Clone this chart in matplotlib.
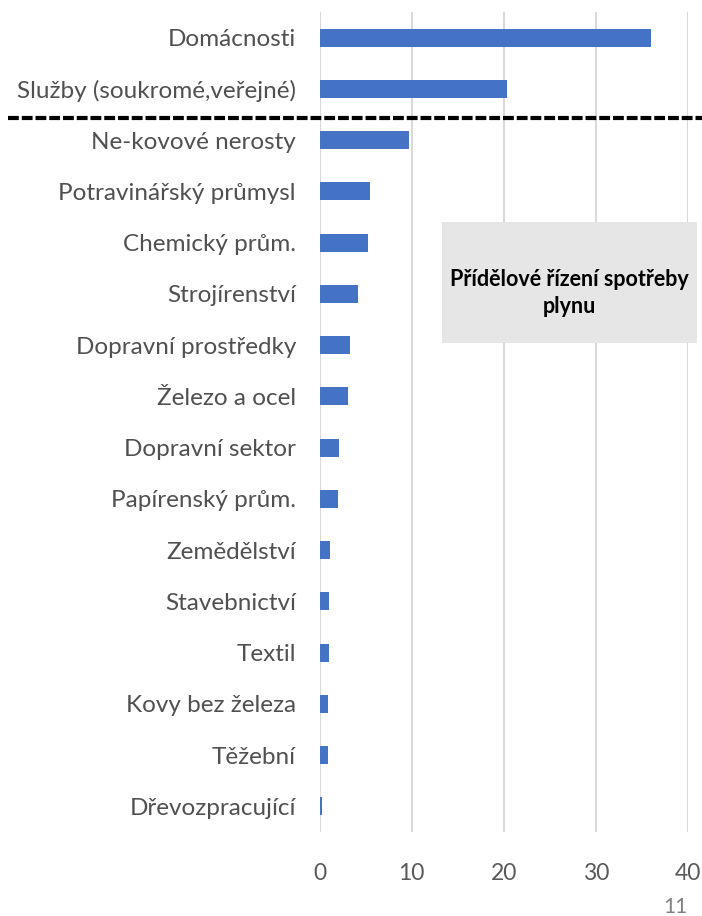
import matplotlib
matplotlib.use("Agg")
import matplotlib.pyplot as plt
from matplotlib.transforms import blended_transform_factory
from matplotlib.lines import Line2D

categories = ["Domácnosti", "Služby (soukromé,veřejné)", "Ne-kovové nerosty",
              "Potravinářský průmysl", "Chemický prům.", "Strojírenství",
              "Dopravní prostředky", "Železo a ocel", "Dopravní sektor",
              "Papírenský prům.", "Zemědělství", "Stavebnictví", "Textil",
              "Kovy bez železa", "Těžební", "Dřevozpracující"]
values = [36.0, 20.4, 9.75, 5.45, 5.3, 4.2, 3.35, 3.1, 2.15, 1.97,
          1.17, 1.03, 1.03, 0.92, 0.92, 0.27]
xticks = [0, 10, 20, 30, 40]
box_text = "Přídělové řízení spotřeby\nplynu"
page_no = "11"

plt.rcParams['font.family'] = ['Lato', 'DejaVu Sans']

fig = plt.figure(figsize=(7.02, 9.16), dpi=100)
ax = fig.add_axes([319.5/702, 1-832/916, (688-319.5)/702, (832-12)/916])

ypos = list(range(len(categories)))
ax.barh(ypos, values, height=0.35, color="#4472C4", zorder=3)
ax.set_ylim(len(categories)-0.5, -0.5)
ax.set_xlim(0, 40)
ax.set_xticks(xticks)
ax.set_xticklabels([str(t) for t in xticks])
ax.set_yticks(ypos)
ax.set_yticklabels(categories)
ax.tick_params(axis='y', length=0, pad=17, labelsize=17.5, labelcolor="#505050")
ax.tick_params(axis='x', length=0, pad=22, labelsize=16.5, labelcolor="#595959")
for s in ax.spines.values():
    s.set_visible(False)
ax.grid(axis='x', color="#d9d9d9", linewidth=1.5, zorder=0)
ax.set_axisbelow(True)

# dashed separator line
trans = blended_transform_factory(fig.transFigure, ax.transData)
line = Line2D([8/702, 1.0], [1.57, 1.57], transform=trans, color="black",
              linewidth=3, linestyle=(0, (2.6, 0.7)), clip_on=False)
fig.add_artist(line)

# annotation box
fig.patches.append(matplotlib.patches.Rectangle((442/702, 1-343/916), (697-442)/702, (343-222)/916,
                                                transform=fig.transFigure, facecolor="#e6e6e6",
                                                edgecolor="none", zorder=5))
fig.text(569/702, 1-293/916, box_text, ha='center', va='center', fontsize=15.5,
         fontweight='bold', color="black", zorder=6, linespacing=1.4)

fig.text(675/702, 1-907/916, page_no, ha='center', va='center', fontsize=15, color="#808080")

fig.savefig("out.png", dpi=100)
